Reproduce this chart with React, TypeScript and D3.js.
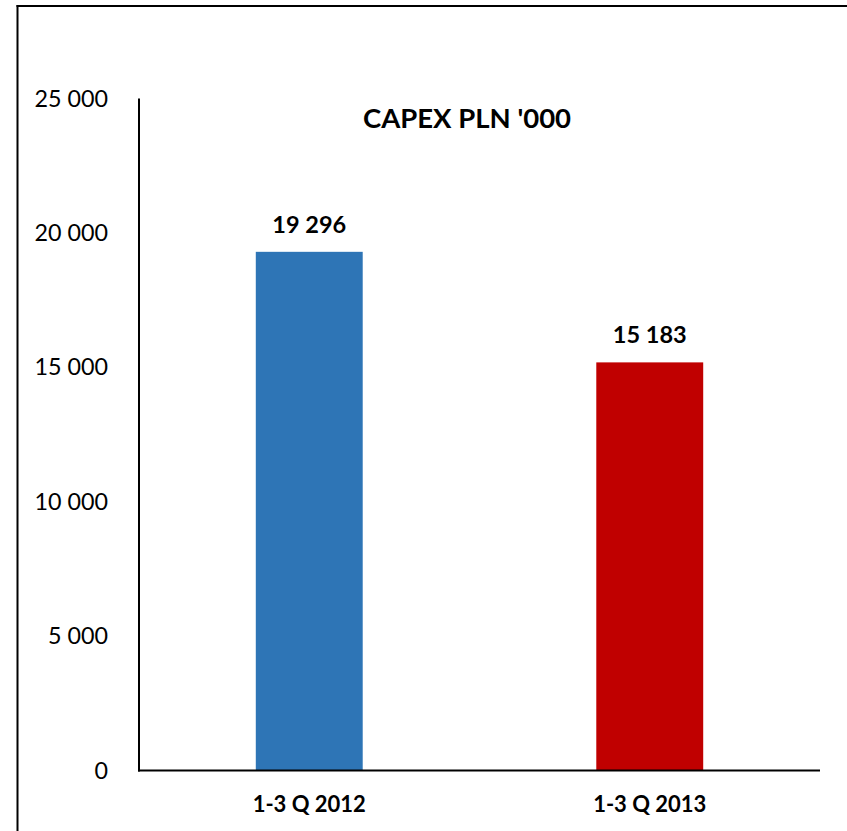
import React from "react";
import * as d3 from "d3";

// CAPEX, PLN thousands, for the first three quarters of each year
const categories: string[] = ["1-3 Q 2012", "1-3 Q 2013"];
const capexValues: number[] = [19296, 15183];
const barColors: string[] = ["#2E75B6", "#C00000"];
const yTicks: number[] = [0, 5000, 10000, 15000, 20000, 25000];
const chartTitle = "CAPEX PLN '000";

const WIDTH = 847;
const HEIGHT = 831;
const FONT = "Lato, 'Open Sans', sans-serif";

// Polish-style thousands separator: space
const fmt = (v: number) => d3.format(",")(v).replace(/,/g, " ");

export default function App() {
  const x0 = 139;
  const x1 = 820;
  const yBottom = 770.5;
  const yTop = 98.5;

  const x = d3
    .scaleBand<string>()
    .domain(categories)
    .range([x0, x1])
    .paddingInner(0.686)
    .paddingOuter(0.343);

  const y = d3.scaleLinear().domain([0, 25000]).range([yBottom, yTop]);

  return (
    <svg
      width={WIDTH}
      height={HEIGHT}
      style={{ position: "absolute", left: 0, top: 0, display: "block", background: "#fff" }}
    >
      {/* frame: left and top edges */}
      <line x1={17.5} y1={5} x2={17.5} y2={HEIGHT} stroke="#000" strokeWidth={2} />
      <line x1={16.5} y1={6} x2={WIDTH} y2={6} stroke="#000" strokeWidth={2} />

      {/* y tick labels */}
      {yTicks.map((t) => (
        <text
          key={t}
          x={108}
          y={y(t)}
          dy="0.35em"
          textAnchor="end"
          fontFamily={FONT}
          fontSize={23.3}
          fill="#000"
        >
          {fmt(t)}
        </text>
      ))}

      {/* bars */}
      {categories.map((c, i) => (
        <rect
          key={c}
          x={x(c)!}
          y={y(capexValues[i])}
          width={x.bandwidth()}
          height={y(0) - y(capexValues[i])}
          fill={barColors[i]}
        />
      ))}

      {/* value labels */}
      {categories.map((c, i) => (
        <text
          key={c + "-v"}
          x={x(c)! + x.bandwidth() / 2}
          y={y(capexValues[i]) - 19}
          textAnchor="middle"
          fontFamily={FONT}
          fontWeight="bold"
          fontSize={23.5}
          fill="#000"
        >
          {fmt(capexValues[i])}
        </text>
      ))}

      {/* axes */}
      <line x1={x0} y1={yTop} x2={x0} y2={yBottom + 1} stroke="#000" strokeWidth={2} />
      <line x1={x0 - 1} y1={yBottom} x2={x1} y2={yBottom} stroke="#000" strokeWidth={2} />

      {/* category labels */}
      {categories.map((c) => (
        <text
          key={c + "-c"}
          x={x(c)! + x.bandwidth() / 2}
          y={812}
          textAnchor="middle"
          fontFamily={FONT}
          fontWeight="bold"
          fontSize={22}
          fill="#000"
        >
          {c}
        </text>
      ))}

      {/* title */}
      <text
        x={467}
        y={128}
        textAnchor="middle"
        fontFamily={FONT}
        fontWeight="bold"
        fontSize={27.5}
        fill="#000"
      >
        {chartTitle}
      </text>
    </svg>
  );
}
